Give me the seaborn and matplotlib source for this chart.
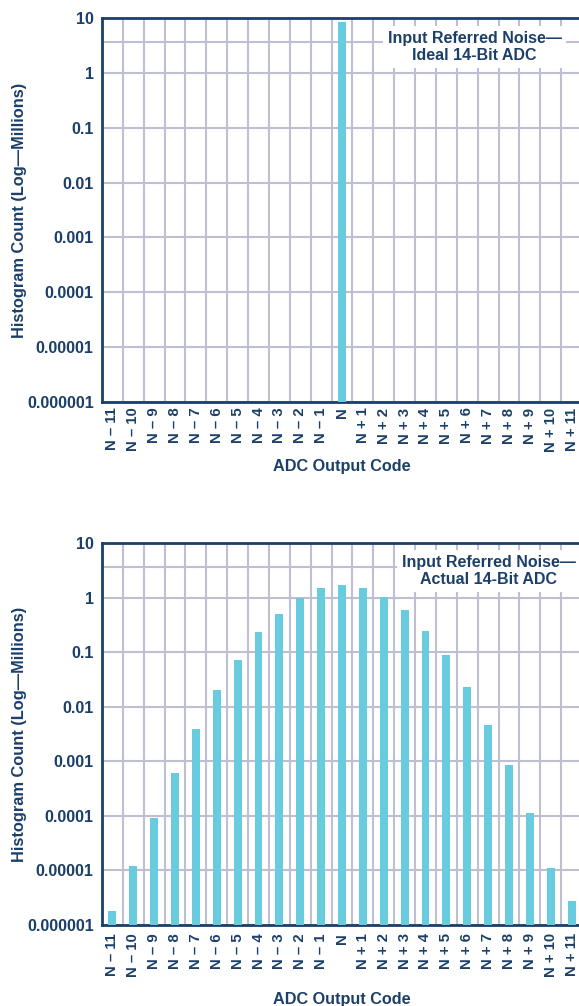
import numpy as np
import pandas as pd
import seaborn as sns
import matplotlib.pyplot as plt

# ADC output codes N-11 ... N+11
codes = ["N – 11", "N – 10", "N – 9", "N – 8", "N – 7", "N – 6", "N – 5", "N – 4",
         "N – 3", "N – 2", "N – 1", "N", "N + 1", "N + 2", "N + 3", "N + 4",
         "N + 5", "N + 6", "N + 7", "N + 8", "N + 9", "N + 10", "N + 11"]

# histogram counts (millions)
ideal_counts = [0, 0, 0, 0, 0, 0, 0, 0, 0, 0, 0, 8.4, 0, 0, 0, 0, 0, 0, 0, 0, 0, 0, 0]
actual_counts = [1.8e-6, 1.2e-5, 9.0e-5, 6.1e-4, 3.9e-3, 0.020, 0.072, 0.234,
                 0.50, 0.98, 1.5, 1.7, 1.5, 1.02, 0.59, 0.245,
                 0.089, 0.023, 0.0047, 8.5e-4, 1.15e-4, 1.12e-5, 2.8e-6]

yticks = [1e-6, 1e-5, 1e-4, 1e-3, 1e-2, 1e-1, 1, 10]
ytick_labels = ["0.000001", "0.00001", "0.0001", "0.001", "0.01", "0.1", "1", "10"]

titles = ["Input Referred Noise—\nIdeal 14-Bit ADC",
          "Input Referred Noise—\nActual 14-Bit ADC"]

navy = "#1B3F68"
bar_color = "#69CCDE"
grid_color = "#BEBFD3"

sns.set_style("white")
plt.rcParams["font.family"] = ["Liberation Sans", "DejaVu Sans"]
plt.rcParams["font.weight"] = "bold"

fig = plt.figure(figsize=(5.79, 10.06), dpi=100)
ax1 = fig.add_axes([102 / 579, 1 - 402 / 1006, 480 / 579, 384 / 1006])
ax2 = fig.add_axes([102 / 579, 1 - 925 / 1006, 480 / 579, 382 / 1006])

panels = [(ax1, ideal_counts, titles[0], 0.776, 0.925, 4.0, -0.148),
          (ax2, actual_counts, titles[1], 0.806, 0.927, 6.0, -0.176)]

for ax, counts, title, tx, ty, xpad, xlab_y in panels:
    df = pd.DataFrame({"code": codes, "count": counts})
    sns.barplot(data=df, x="code", y="count", color=bar_color, saturation=1,
                width=0.38, linewidth=0, ax=ax, zorder=3)
    ax.set_yscale("log")
    ax.set_ylim(1e-6, 10)
    ax.set_xlim(-0.5, 22.5)
    ax.set_yticks(yticks)
    ax.set_yticklabels(ytick_labels)
    ax.minorticks_off()
    ax.set_xticks(np.arange(-0.5, 23, 1), minor=True)
    ax.grid(which="minor", axis="x", color=grid_color, linewidth=1.5, zorder=0)
    ax.grid(which="major", axis="y", color=grid_color, linewidth=1.5, zorder=0)
    ax.axhline(3.6, color=grid_color, linewidth=1.5, zorder=0)
    ax.set_axisbelow(True)
    ax.tick_params(which="both", length=0, colors=navy)
    ax.tick_params(axis="y", labelsize=11.6, pad=6)
    ax.tick_params(axis="x", labelsize=10.7, pad=xpad, labelrotation=90)
    for spine in ["left", "top", "bottom"]:
        ax.spines[spine].set_color(navy)
        ax.spines[spine].set_linewidth(2)
    ax.spines["right"].set_visible(False)
    ax.set_ylabel("Histogram Count (Log—Millions)", color=navy, fontsize=11.8,
                  fontweight="bold")
    ax.yaxis.set_label_coords(-0.157, 0.5)
    ax.set_xlabel("ADC Output Code", color=navy, fontsize=11.7, fontweight="bold",
                  va="top")
    ax.xaxis.set_label_coords(0.5, xlab_y)
    ax.text(tx, ty, title, transform=ax.transAxes, ha="center", va="center",
            multialignment="center", color=navy, fontsize=11.5, fontweight="bold",
            linespacing=1.2, zorder=4,
            bbox=dict(facecolor="white", edgecolor="none", pad=3.5))

fig.savefig("out.png", dpi=100)
